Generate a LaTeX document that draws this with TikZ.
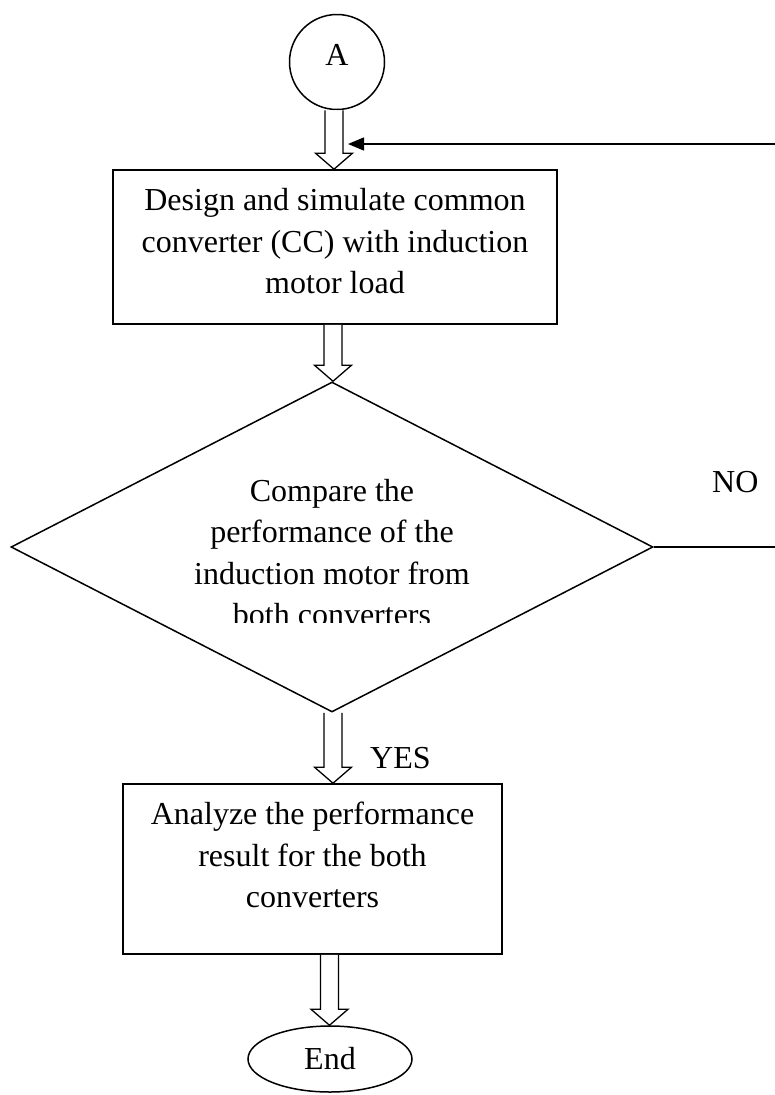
\documentclass[tikz,border=0pt]{standalone}
\usepackage{fontspec}
\setmainfont{Liberation Serif}
\usetikzlibrary{shapes.geometric,arrows.meta,calc}
\newcommand\hollowarrow[3]{%
  \draw[hollow] let \p1=(#2), \p2=(#3) in
    (#1-9pt,\y1) -- (#1-9pt,\y2+16pt) -- (#1-18.5pt,\y2+16pt) -- (#1,\y2)
    -- (#1+18.5pt,\y2+16pt) -- (#1+9pt,\y2+16pt) -- (#1+9pt,\y1);}
\begin{document}
\begin{tikzpicture}[x=1pt,y=-1pt,
  txt/.style={font=\fontsize{32}{41.5}\selectfont},
  box/.style={draw,line width=1.6pt,rectangle,inner sep=0pt,align=center,txt},
  conn/.style={line width=1.5pt},
  hollow/.style={line width=1.3pt,fill=white,line join=miter}]
\useasboundingbox (0,0) rectangle (775,1095);
% nodes
\node[draw,circle,line width=1.5pt,minimum size=95pt,inner sep=0pt,txt,text depth=15pt] (A) at (337,62) {A};
\node[box,minimum width=444pt,minimum height=154pt] (b1) at (335,247)
  {Design and simulate common\\converter (CC) with induction\\motor load\rule[-12pt]{0pt}{12pt}};
\node[draw,diamond,line width=1.5pt,minimum width=642pt,minimum height=330pt,inner sep=0pt] (dec) at (332,547) {};
\begin{scope}
  \clip (0,0) rectangle (775,622);
  \node[txt,align=center,anchor=north,inner sep=0pt] (dectext) at (332,479)
    {Compare the\\performance of the\\induction motor from\\both converters};
\end{scope}
\node[box,minimum width=379pt,minimum height=170pt] (b2) at (312.5,869)
  {Analyze the performance\\result for the both\\converters\rule[-28pt]{0pt}{28pt}};
\node[draw,ellipse,line width=1.5pt,minimum width=164pt,minimum height=66pt,inner sep=0pt,txt] (end) at (330,1059) {End};
\node[txt,anchor=base west,inner sep=0pt] (yes) at (370,768) {YES};
\node[txt,anchor=base west,inner sep=0pt] (no) at (712,492) {NO};
% hollow arrows
\hollowarrow{334pt}{A.south}{b1.north}
\hollowarrow{333pt}{b1.south}{dec.north}
\hollowarrow{333pt}{dec.south}{b2.north}
\hollowarrow{329.5pt}{b2.south}{end.north}
% feedback
\coordinate (fbR) at (775,144);
\coordinate (fbL) at (348,144);
\coordinate (noR) at (775,547);
\draw[conn,-{Triangle[length=16pt,width=13pt]}] (fbR) -- (fbL);
\draw[conn] (dec.east) -- (noR);
\end{tikzpicture}
\end{document}
